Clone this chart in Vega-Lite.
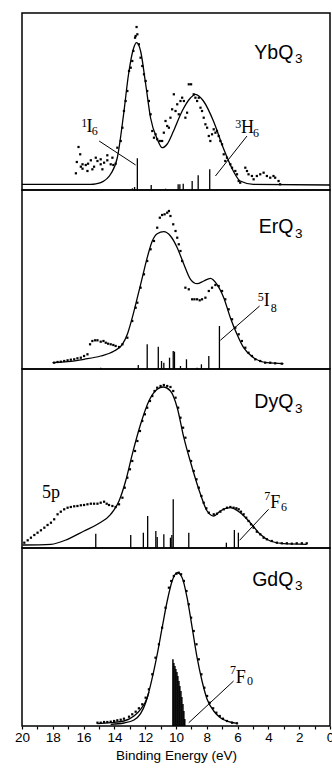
{
"$schema": "https://vega.github.io/schema/vega-lite/v6.json",
"padding": {"left": 13, "top": 12, "right": 0, "bottom": 4},
"spacing": 0,
"bounds": "flush",
"config": {"view": {"stroke": "black", "strokeWidth": 1.5}, "concat": {"spacing": 0}, "font": "Liberation Sans"},
"datasets": {
"fit": [
{"p":1,"s":"a","E":20,"I":5.7},{"p":1,"s":"a","E":15.53,"I":5.7},{"p":1,"s":"a","E":15.2,"I":6.2},{"p":1,"s":"a","E":14.89,"I":7.3},{"p":1,"s":"a","E":14.24,"I":16},{"p":1,"s":"a","E":13.81,"I":32.3},{"p":1,"s":"a","E":13.4,"I":76},{"p":1,"s":"a","E":13.08,"I":116},{"p":1,"s":"a","E":12.75,"I":142},{"p":1,"s":"a","E":12.56,"I":147.3},{"p":1,"s":"a","E":12.3,"I":139},{"p":1,"s":"a","E":11.97,"I":106},{"p":1,"s":"a","E":11.65,"I":72},{"p":1,"s":"a","E":11.22,"I":51},{"p":1,"s":"a","E":10.89,"I":42.3},{"p":1,"s":"a","E":10.57,"I":46},{"p":1,"s":"a","E":10.16,"I":59},{"p":1,"s":"a","E":9.6,"I":79},{"p":1,"s":"a","E":9.06,"I":92},{"p":1,"s":"a","E":8.74,"I":95.7},{"p":1,"s":"a","E":8.22,"I":89},{"p":1,"s":"a","E":7.57,"I":69},{"p":1,"s":"a","E":6.93,"I":42},{"p":1,"s":"a","E":6.28,"I":19},{"p":1,"s":"a","E":5.83,"I":9},{"p":1,"s":"a","E":4.98,"I":5.7},{"p":1,"s":"a","E":0,"I":5},
{"p":2,"s":"a","E":18.02,"I":6.3},{"p":2,"s":"a","E":17.04,"I":7.3},{"p":2,"s":"a","E":15.97,"I":9.7},{"p":2,"s":"a","E":14.89,"I":13},{"p":2,"s":"a","E":14.02,"I":18},{"p":2,"s":"a","E":13.48,"I":24.7},{"p":2,"s":"a","E":13.16,"I":34.7},{"p":2,"s":"a","E":12.84,"I":51.3},{"p":2,"s":"a","E":12.51,"I":71.3},{"p":2,"s":"a","E":12.19,"I":91.3},{"p":2,"s":"a","E":11.87,"I":111.3},{"p":2,"s":"a","E":11.54,"I":128},{"p":2,"s":"a","E":11.22,"I":135.3},{"p":2,"s":"a","E":10.79,"I":137.3},{"p":2,"s":"a","E":10.36,"I":133},{"p":2,"s":"a","E":9.92,"I":121.3},{"p":2,"s":"a","E":9.49,"I":104.7},{"p":2,"s":"a","E":9.06,"I":89.7},{"p":2,"s":"a","E":8.63,"I":85.3},{"p":2,"s":"a","E":8.2,"I":88},{"p":2,"s":"a","E":7.77,"I":90.7},{"p":2,"s":"a","E":7.34,"I":84.7},{"p":2,"s":"a","E":6.9,"I":71.3},{"p":2,"s":"a","E":6.47,"I":51.3},{"p":2,"s":"a","E":6.04,"I":34.7},{"p":2,"s":"a","E":5.61,"I":21.3},{"p":2,"s":"a","E":4.96,"I":11.3},{"p":2,"s":"a","E":4.1,"I":6.3},{"p":2,"s":"a","E":3.02,"I":5.3},
{"p":3,"s":"a","E":19.96,"I":3},{"p":3,"s":"a","E":18.12,"I":3.7},{"p":3,"s":"a","E":17.04,"I":8.7},{"p":3,"s":"a","E":15.97,"I":17},{"p":3,"s":"a","E":15.1,"I":23.7},{"p":3,"s":"a","E":14.24,"I":33.7},{"p":3,"s":"a","E":13.7,"I":47},{"p":3,"s":"a","E":13.27,"I":67},{"p":3,"s":"a","E":12.84,"I":93.7},{"p":3,"s":"a","E":12.3,"I":123.7},{"p":3,"s":"a","E":11.76,"I":147},{"p":3,"s":"a","E":11.22,"I":158.7},{"p":3,"s":"a","E":10.83,"I":161},{"p":3,"s":"a","E":10.36,"I":157},{"p":3,"s":"a","E":9.92,"I":140.3},{"p":3,"s":"a","E":9.49,"I":110.3},{"p":3,"s":"a","E":8.95,"I":80.3},{"p":3,"s":"a","E":8.41,"I":53.7},{"p":3,"s":"a","E":7.98,"I":37},{"p":3,"s":"a","E":7.55,"I":32},{"p":3,"s":"a","E":7.12,"I":37},{"p":3,"s":"a","E":6.47,"I":40.3},{"p":3,"s":"a","E":5.83,"I":35.3},{"p":3,"s":"a","E":5.18,"I":25.3},{"p":3,"s":"a","E":4.53,"I":13.7},{"p":3,"s":"a","E":3.88,"I":7},{"p":3,"s":"a","E":3.02,"I":4.3},{"p":3,"s":"a","E":1.51,"I":3.7},
{"p":4,"s":"a","E":15.1,"I":2.3},{"p":4,"s":"a","E":14.24,"I":3.3},{"p":4,"s":"a","E":13.38,"I":5},{"p":4,"s":"a","E":12.73,"I":10},{"p":4,"s":"a","E":12.3,"I":16.7},{"p":4,"s":"a","E":11.87,"I":28.3},{"p":4,"s":"a","E":11.54,"I":48.3},{"p":4,"s":"a","E":11.22,"I":71.7},{"p":4,"s":"a","E":10.9,"I":98.3},{"p":4,"s":"a","E":10.57,"I":125},{"p":4,"s":"a","E":10.25,"I":145},{"p":4,"s":"a","E":9.92,"I":153.3},{"p":4,"s":"a","E":9.6,"I":148.3},{"p":4,"s":"a","E":9.28,"I":128.3},{"p":4,"s":"a","E":8.95,"I":98.3},{"p":4,"s":"a","E":8.63,"I":68.3},{"p":4,"s":"a","E":8.31,"I":45},{"p":4,"s":"a","E":7.98,"I":26.7},{"p":4,"s":"a","E":7.55,"I":15},{"p":4,"s":"a","E":7.12,"I":8.3},{"p":4,"s":"a","E":6.58,"I":4.3},{"p":4,"s":"a","E":6.04,"I":2.7},
{"p":4,"s":"b","E":14.24,"I":1.7},{"p":4,"s":"b","E":13.38,"I":3},{"p":4,"s":"b","E":12.73,"I":6},{"p":4,"s":"b","E":12.3,"I":12.3},{"p":4,"s":"b","E":11.97,"I":23.3},{"p":4,"s":"b","E":11.76,"I":34}
],
"dots": [
{"p":1,"E":16.5,"I":16.7},{"p":1,"E":16.44,"I":28},{"p":1,"E":16.33,"I":43},{"p":1,"E":16.22,"I":35.7},{"p":1,"E":16.18,"I":23.3},{"p":1,"E":16.07,"I":25.7},{"p":1,"E":16.07,"I":21.3},{"p":1,"E":15.86,"I":25},{"p":1,"E":15.75,"I":19},{"p":1,"E":15.71,"I":26.3},{"p":1,"E":15.53,"I":29.7},{"p":1,"E":15.43,"I":20.7},{"p":1,"E":15.32,"I":23.3},{"p":1,"E":15.21,"I":32.3},{"p":1,"E":15.1,"I":29},{"p":1,"E":14.89,"I":30.7},{"p":1,"E":14.89,"I":25.7},{"p":1,"E":14.78,"I":20.7},{"p":1,"E":14.67,"I":27.3},{"p":1,"E":14.46,"I":34.7},{"p":1,"E":14.46,"I":29.7},{"p":1,"E":14.24,"I":25.7},{"p":1,"E":14.13,"I":32.3},{"p":1,"E":14.07,"I":25},{"p":1,"E":13.92,"I":26.3},{"p":1,"E":13.81,"I":42.3},{"p":1,"E":13.59,"I":49},{"p":1,"E":13.48,"I":62.3},{"p":1,"E":13.38,"I":79},{"p":1,"E":13.27,"I":89},{"p":1,"E":13.16,"I":99},{"p":1,"E":13.05,"I":119},{"p":1,"E":12.94,"I":122.3},{"p":1,"E":12.84,"I":129},{"p":1,"E":12.77,"I":139},{"p":1,"E":12.66,"I":152.3},{"p":1,"E":12.62,"I":154},{"p":1,"E":12.56,"I":163},{"p":1,"E":12.51,"I":155.7},{"p":1,"E":12.41,"I":145.7},{"p":1,"E":12.3,"I":132.3},{"p":1,"E":12.19,"I":124},{"p":1,"E":12.08,"I":115.7},{"p":1,"E":11.97,"I":109},{"p":1,"E":11.87,"I":99},{"p":1,"E":11.76,"I":89},{"p":1,"E":11.65,"I":75.7},{"p":1,"E":11.54,"I":59},{"p":1,"E":11.43,"I":52.3},{"p":1,"E":11.33,"I":55.7},{"p":1,"E":11.22,"I":50.7},{"p":1,"E":11.05,"I":49},{"p":1,"E":10.9,"I":49},{"p":1,"E":10.79,"I":57.3},{"p":1,"E":10.68,"I":69},{"p":1,"E":10.57,"I":64},{"p":1,"E":10.46,"I":62.3},{"p":1,"E":10.36,"I":72.3},{"p":1,"E":10.25,"I":80.7},{"p":1,"E":10.14,"I":95.7},{"p":1,"E":10.03,"I":79},{"p":1,"E":9.92,"I":85.7},{"p":1,"E":9.82,"I":75.7},{"p":1,"E":9.71,"I":89},{"p":1,"E":9.6,"I":92.3},{"p":1,"E":9.49,"I":89},{"p":1,"E":9.39,"I":72.3},{"p":1,"E":9.28,"I":77.3},{"p":1,"E":9.17,"I":105.7},{"p":1,"E":9.02,"I":105.7},{"p":1,"E":8.85,"I":95.7},{"p":1,"E":8.74,"I":92.3},{"p":1,"E":8.63,"I":89},{"p":1,"E":8.52,"I":92.3},{"p":1,"E":8.41,"I":82.3},{"p":1,"E":8.31,"I":79},{"p":1,"E":8.2,"I":72.3},{"p":1,"E":8.09,"I":65.7},{"p":1,"E":7.98,"I":62.3},{"p":1,"E":7.87,"I":54},{"p":1,"E":7.77,"I":49},{"p":1,"E":7.66,"I":55.7},{"p":1,"E":7.55,"I":60.7},{"p":1,"E":7.44,"I":57.3},{"p":1,"E":7.34,"I":59},{"p":1,"E":7.23,"I":54},{"p":1,"E":7.12,"I":49},{"p":1,"E":7.01,"I":45.7},{"p":1,"E":6.9,"I":35.7},{"p":1,"E":6.8,"I":29},{"p":1,"E":6.69,"I":32.3},{"p":1,"E":6.47,"I":25.7},{"p":1,"E":6.36,"I":22.3},{"p":1,"E":6.15,"I":19},{"p":1,"E":6.04,"I":15.7},{"p":1,"E":5.93,"I":9},{"p":1,"E":5.83,"I":7.3},{"p":1,"E":5.5,"I":22.3},{"p":1,"E":5.39,"I":19},{"p":1,"E":5.29,"I":15.7},{"p":1,"E":5.07,"I":14},{"p":1,"E":4.96,"I":10.7},{"p":1,"E":4.75,"I":14},{"p":1,"E":4.53,"I":15.7},{"p":1,"E":4.31,"I":17.3},{"p":1,"E":4.1,"I":14},{"p":1,"E":3.88,"I":12.3},{"p":1,"E":3.67,"I":14},{"p":1,"E":3.56,"I":12.3},{"p":1,"E":3.34,"I":9},{"p":1,"E":3.24,"I":5.7},
{"p":2,"E":17.91,"I":6.3},{"p":2,"E":17.69,"I":7},{"p":2,"E":17.48,"I":7.3},{"p":2,"E":17.26,"I":8},{"p":2,"E":17.04,"I":8.7},{"p":2,"E":16.83,"I":9.3},{"p":2,"E":16.61,"I":9.7},{"p":2,"E":16.4,"I":10.7},{"p":2,"E":16.18,"I":11.3},{"p":2,"E":15.97,"I":13},{"p":2,"E":15.75,"I":14.7},{"p":2,"E":15.58,"I":24.7},{"p":2,"E":15.43,"I":28},{"p":2,"E":15.25,"I":28.7},{"p":2,"E":15.1,"I":28.7},{"p":2,"E":14.89,"I":27.3},{"p":2,"E":14.71,"I":28},{"p":2,"E":14.56,"I":26.3},{"p":2,"E":14.41,"I":25.3},{"p":2,"E":14.24,"I":24.7},{"p":2,"E":14.07,"I":24},{"p":2,"E":13.92,"I":23},{"p":2,"E":13.7,"I":22},{"p":2,"E":13.48,"I":24.7},{"p":2,"E":13.16,"I":31.3},{"p":2,"E":12.84,"I":48},{"p":2,"E":12.62,"I":61.3},{"p":2,"E":12.51,"I":66.3},{"p":2,"E":12.3,"I":81.3},{"p":2,"E":12.08,"I":94.7},{"p":2,"E":11.87,"I":108},{"p":2,"E":11.65,"I":119.7},{"p":2,"E":11.43,"I":128},{"p":2,"E":11.22,"I":141.3},{"p":2,"E":11.05,"I":151.3},{"p":2,"E":10.9,"I":154},{"p":2,"E":10.74,"I":154.7},{"p":2,"E":10.57,"I":156.3},{"p":2,"E":10.46,"I":158},{"p":2,"E":10.36,"I":153},{"p":2,"E":10.18,"I":144.7},{"p":2,"E":10.03,"I":138},{"p":2,"E":9.92,"I":131.3},{"p":2,"E":9.82,"I":124.7},{"p":2,"E":9.71,"I":118},{"p":2,"E":9.6,"I":108},{"p":2,"E":9.39,"I":81.3},{"p":2,"E":9.17,"I":79.7},{"p":2,"E":8.95,"I":69.7},{"p":2,"E":8.8,"I":69.7},{"p":2,"E":8.63,"I":69.7},{"p":2,"E":8.46,"I":68.7},{"p":2,"E":8.31,"I":69.7},{"p":2,"E":8.09,"I":71.3},{"p":2,"E":7.87,"I":78},{"p":2,"E":7.66,"I":81.3},{"p":2,"E":7.44,"I":84},{"p":2,"E":7.23,"I":83},{"p":2,"E":7.01,"I":78},{"p":2,"E":6.8,"I":69.7},{"p":2,"E":6.58,"I":59.7},{"p":2,"E":6.36,"I":49.7},{"p":2,"E":6.15,"I":41.3},{"p":2,"E":5.93,"I":34.7},{"p":2,"E":5.72,"I":28},{"p":2,"E":5.5,"I":21.3},{"p":2,"E":5.29,"I":16.3},{"p":2,"E":5.07,"I":13},{"p":2,"E":4.85,"I":9.7},{"p":2,"E":4.53,"I":8},{"p":2,"E":4.21,"I":6.3},{"p":2,"E":3.88,"I":6.3},{"p":2,"E":3.56,"I":5.7},{"p":2,"E":3.13,"I":5.3},
{"p":3,"E":19.85,"I":5.3},{"p":3,"E":19.63,"I":7.7},{"p":3,"E":19.42,"I":10.3},{"p":3,"E":19.2,"I":13},{"p":3,"E":18.99,"I":15.3},{"p":3,"E":18.77,"I":17.7},{"p":3,"E":18.55,"I":20.3},{"p":3,"E":18.34,"I":23},{"p":3,"E":18.12,"I":25.3},{"p":3,"E":17.91,"I":28.7},{"p":3,"E":17.69,"I":33.7},{"p":3,"E":17.48,"I":36.3},{"p":3,"E":17.26,"I":38.7},{"p":3,"E":17.04,"I":40.3},{"p":3,"E":16.83,"I":41},{"p":3,"E":16.61,"I":41.7},{"p":3,"E":16.4,"I":42},{"p":3,"E":16.18,"I":42.7},{"p":3,"E":15.97,"I":43},{"p":3,"E":15.75,"I":43.7},{"p":3,"E":15.53,"I":44.3},{"p":3,"E":15.32,"I":44.3},{"p":3,"E":15.1,"I":44.3},{"p":3,"E":14.89,"I":45.3},{"p":3,"E":14.67,"I":46.3},{"p":3,"E":14.5,"I":44.3},{"p":3,"E":14.35,"I":43},{"p":3,"E":14.13,"I":42},{"p":3,"E":13.92,"I":41},{"p":3,"E":13.7,"I":43.7},{"p":3,"E":13.48,"I":50.3},{"p":3,"E":13.33,"I":60.3},{"p":3,"E":13.16,"I":70.3},{"p":3,"E":12.99,"I":78.7},{"p":3,"E":12.84,"I":87},{"p":3,"E":12.66,"I":97},{"p":3,"E":12.51,"I":107},{"p":3,"E":12.34,"I":117},{"p":3,"E":12.19,"I":127},{"p":3,"E":12.02,"I":133.7},{"p":3,"E":11.87,"I":140.3},{"p":3,"E":11.69,"I":147},{"p":3,"E":11.54,"I":152},{"p":3,"E":11.39,"I":157},{"p":3,"E":11.22,"I":160.3},{"p":3,"E":11,"I":162},{"p":3,"E":10.79,"I":163},{"p":3,"E":10.57,"I":162},{"p":3,"E":10.36,"I":161},{"p":3,"E":10.18,"I":157},{"p":3,"E":10.03,"I":150.3},{"p":3,"E":9.86,"I":140.3},{"p":3,"E":9.71,"I":130.3},{"p":3,"E":9.54,"I":120.3},{"p":3,"E":9.39,"I":110.3},{"p":3,"E":9.17,"I":97},{"p":3,"E":9.02,"I":87},{"p":3,"E":8.85,"I":77},{"p":3,"E":8.67,"I":68.7},{"p":3,"E":8.52,"I":60.3},{"p":3,"E":8.35,"I":52},{"p":3,"E":8.2,"I":45.3},{"p":3,"E":8.03,"I":39.7},{"p":3,"E":7.87,"I":35.3},{"p":3,"E":7.55,"I":33.7},{"p":3,"E":7.34,"I":34.3},{"p":3,"E":7.12,"I":36.3},{"p":3,"E":6.9,"I":38.7},{"p":3,"E":6.69,"I":40.3},{"p":3,"E":6.47,"I":41},{"p":3,"E":6.26,"I":40.3},{"p":3,"E":6.08,"I":39.7},{"p":3,"E":5.93,"I":38.7},{"p":3,"E":5.78,"I":36.3},{"p":3,"E":5.61,"I":33.7},{"p":3,"E":5.44,"I":30.3},{"p":3,"E":5.29,"I":27},{"p":3,"E":5.13,"I":23.7},{"p":3,"E":4.96,"I":20.3},{"p":3,"E":4.75,"I":16.3},{"p":3,"E":4.53,"I":13.7},{"p":3,"E":4.31,"I":10.3},{"p":3,"E":4.1,"I":8.7},{"p":3,"E":3.78,"I":7},{"p":3,"E":3.45,"I":5.3},{"p":3,"E":3.13,"I":4.7},{"p":3,"E":2.8,"I":4.7},{"p":3,"E":2.48,"I":4.3},{"p":3,"E":2.16,"I":4.7},{"p":3,"E":1.83,"I":4.7},{"p":3,"E":1.51,"I":4.7},
{"p":4,"E":15.1,"I":3.3},{"p":4,"E":14.89,"I":3.3},{"p":4,"E":14.67,"I":4},{"p":4,"E":14.46,"I":4},{"p":4,"E":14.24,"I":4.3},{"p":4,"E":14.02,"I":5},{"p":4,"E":13.81,"I":5.7},{"p":4,"E":13.59,"I":6.3},{"p":4,"E":13.38,"I":7.3},{"p":4,"E":13.05,"I":9.3},{"p":4,"E":12.84,"I":11.7},{"p":4,"E":12.62,"I":14.3},{"p":4,"E":12.41,"I":17.7},{"p":4,"E":12.19,"I":21.7},{"p":4,"E":11.97,"I":28.3},{"p":4,"E":11.76,"I":36.7},{"p":4,"E":11.54,"I":51.7},{"p":4,"E":11.33,"I":68.3},{"p":4,"E":11.11,"I":81.7},{"p":4,"E":10.9,"I":98.3},{"p":4,"E":10.68,"I":118.3},{"p":4,"E":10.46,"I":138.3},{"p":4,"E":10.31,"I":145},{"p":4,"E":10.14,"I":150},{"p":4,"E":9.97,"I":152.3},{"p":4,"E":9.82,"I":153.3},{"p":4,"E":9.67,"I":151.7},{"p":4,"E":9.49,"I":145},{"p":4,"E":9.32,"I":135},{"p":4,"E":9.17,"I":121.7},{"p":4,"E":9.02,"I":108.3},{"p":4,"E":8.85,"I":95},{"p":4,"E":8.67,"I":81.7},{"p":4,"E":8.52,"I":66.7},{"p":4,"E":8.35,"I":51.7},{"p":4,"E":8.16,"I":38.3},{"p":4,"E":7.98,"I":30},{"p":4,"E":7.81,"I":23.3},{"p":4,"E":7.59,"I":17.7},{"p":4,"E":7.38,"I":13.3},{"p":4,"E":7.16,"I":10},{"p":4,"E":6.95,"I":7.3},{"p":4,"E":6.69,"I":5},{"p":4,"E":6.36,"I":3.3},{"p":4,"E":6.04,"I":2.7}
],
"sticks": [
{"p":1,"E":12.83,"I":1.7},{"p":1,"E":12.69,"I":3},{"p":1,"E":12.51,"I":31.7},{"p":1,"E":11.61,"I":5},{"p":1,"E":10.68,"I":1.3},{"p":1,"E":9.86,"I":5.7},{"p":1,"E":9.75,"I":5.7},{"p":1,"E":9.53,"I":6.3},{"p":1,"E":8.95,"I":9},{"p":1,"E":8.56,"I":14.7},{"p":1,"E":7.81,"I":20.7},
{"p":2,"E":14.89,"I":1.3},{"p":2,"E":12.45,"I":4},{"p":2,"E":11.87,"I":24.7},{"p":2,"E":11.15,"I":22.3},{"p":2,"E":10.94,"I":8},{"p":2,"E":10.79,"I":6.3},{"p":2,"E":10.42,"I":11.3},{"p":2,"E":10.18,"I":18},{"p":2,"E":10.1,"I":17.3},{"p":2,"E":9.71,"I":3},{"p":2,"E":9.32,"I":9.7},{"p":2,"E":8.63,"I":1.3},{"p":2,"E":8.35,"I":4.7},{"p":2,"E":7.87,"I":13},{"p":2,"E":7.18,"I":43},
{"p":3,"E":15.21,"I":14.3},{"p":3,"E":12.94,"I":13},{"p":3,"E":12.12,"I":15.3},{"p":3,"E":11.84,"I":32},{"p":3,"E":11.31,"I":17},{"p":3,"E":11.22,"I":11},{"p":3,"E":10.79,"I":13.7},{"p":3,"E":10.36,"I":10.3},{"p":3,"E":10.27,"I":13},{"p":3,"E":10.18,"I":48.7},{"p":3,"E":9.17,"I":15.3},{"p":3,"E":6.73,"I":5.3},{"p":3,"E":6.21,"I":18},{"p":3,"E":5.95,"I":15.3},
{"p":4,"E":10.2,"I":66.7},{"p":4,"E":10.14,"I":63},{"p":4,"E":10.07,"I":60},{"p":4,"E":10.01,"I":57},{"p":4,"E":9.94,"I":54},{"p":4,"E":9.88,"I":50},{"p":4,"E":9.81,"I":45},{"p":4,"E":9.75,"I":40},{"p":4,"E":9.68,"I":35},{"p":4,"E":9.62,"I":29},{"p":4,"E":9.55,"I":22},{"p":4,"E":9.49,"I":15},{"p":4,"E":9.43,"I":7}
],
"leaders": [
{"p":1,"E":14.99,"I":49,"E2":12.62,"I2":25},{"p":1,"E":7.44,"I":14,"E2":5.39,"I2":54},
{"p":2,"E":7.12,"I":28.7,"E2":4.57,"I2":63},
{"p":3,"E":5.87,"I":7.7,"E2":3.99,"I2":38.7},
{"p":4,"E":9.17,"I":3.3,"E2":6.26,"I2":45}
],
"names": [
{"p":1,"E":2.38,"I":130.7,"t":"YbQ"},{"p":2,"E":2.38,"I":136.3,"t":"ErQ"},{"p":3,"E":2.38,"I":140.3,"t":"DyQ"},{"p":4,"E":2.38,"I":140,"t":"GdQ"}
],
"namesubs": [
{"p":1,"E":2.27,"I":127,"t":"3"},{"p":2,"E":2.27,"I":131.3,"t":"3"},{"p":3,"E":2.27,"I":135.3,"t":"3"},{"p":4,"E":2.27,"I":135.7,"t":"3"}
],
"terms": [
{"p":1,"E":15.62,"I":58.3,"t":"I"},{"p":1,"E":5.36,"I":57.3,"t":"H"},{"p":2,"E":4.1,"I":63,"t":"I"},{"p":3,"E":3.56,"I":40.3,"t":"F"},{"p":3,"E":18.12,"I":50.3,"t":"5p"},{"p":4,"E":5.8,"I":43.3,"t":"F"}
],
"termsmall": [
{"p":1,"E":15.95,"I":63,"t":"1"},{"p":1,"E":15.27,"I":55.2,"t":"6"},{"p":1,"E":5.95,"I":61.7,"t":"3"},{"p":1,"E":4.8,"I":53.5,"t":"6"},
{"p":2,"E":4.5,"I":68,"t":"5"},{"p":2,"E":3.65,"I":57.5,"t":"8"},
{"p":3,"E":4.08,"I":47.7,"t":"7"},{"p":3,"E":2.99,"I":37.2,"t":"6"},
{"p":4,"E":6.3,"I":51.7,"t":"7"},{"p":4,"E":5.19,"I":41.2,"t":"0"}
]
},
"vconcat": [
{"width": 308, "height": 177,
 "encoding": {"x": {"field":"E","type":"quantitative","scale":{"domain":[20,0],"nice":false},"axis":null},
              "y": {"field":"I","type":"quantitative","scale":{"domain":[0,177],"nice":false},"axis":null}},
 "layer": [
  {"data":{"name":"fit"},"transform":[{"filter":"datum.p == 1"}],"mark":{"type":"line","color":"black","strokeWidth":1.3,"interpolate":"monotone"},"encoding":{"detail":{"field":"s"}}},
  {"data":{"name":"dots"},"transform":[{"filter":"datum.p == 1"}],"mark":{"type":"point","shape":"square","filled":true,"size":5,"color":"black","opacity":1}},
  {"data":{"name":"sticks"},"transform":[{"filter":"datum.p == 1"}],"mark":{"type":"rule","color":"black","strokeWidth":1.3},"encoding":{"y2":{"datum":0}}},
  {"data":{"name":"leaders"},"transform":[{"filter":"datum.p == 1"}],"mark":{"type":"rule","color":"black","strokeWidth":1},"encoding":{"x2":{"field":"E2"},"y2":{"field":"I2"}}},
  {"data":{"name":"names"},"transform":[{"filter":"datum.p == 1"}],"mark":{"type":"text","font":"Liberation Sans","fontSize":19.5,"align":"right","baseline":"alphabetic","color":"black"},"encoding":{"text":{"field":"t"}}},
  {"data":{"name":"namesubs"},"transform":[{"filter":"datum.p == 1"}],"mark":{"type":"text","font":"Liberation Sans","fontSize":13.5,"align":"left","baseline":"alphabetic","color":"black"},"encoding":{"text":{"field":"t"}}},
  {"data":{"name":"terms"},"transform":[{"filter":"datum.p == 1"}],"mark":{"type":"text","font":"Liberation Serif","fontSize":18,"align":"center","baseline":"alphabetic","color":"black"},"encoding":{"text":{"field":"t"}}},
  {"data":{"name":"termsmall"},"transform":[{"filter":"datum.p == 1"}],"mark":{"type":"text","font":"Liberation Serif","fontSize":12,"align":"center","baseline":"alphabetic","color":"black"},"encoding":{"text":{"field":"t"}}}
 ]},
{"width": 308, "height": 179,
 "encoding": {"x": {"field":"E","type":"quantitative","scale":{"domain":[20,0],"nice":false},"axis":null},
              "y": {"field":"I","type":"quantitative","scale":{"domain":[0,179],"nice":false},"axis":null}},
 "layer": [
  {"data":{"name":"fit"},"transform":[{"filter":"datum.p == 2"}],"mark":{"type":"line","color":"black","strokeWidth":1.3,"interpolate":"monotone"},"encoding":{"detail":{"field":"s"}}},
  {"data":{"name":"dots"},"transform":[{"filter":"datum.p == 2"}],"mark":{"type":"point","shape":"square","filled":true,"size":5,"color":"black","opacity":1}},
  {"data":{"name":"sticks"},"transform":[{"filter":"datum.p == 2"}],"mark":{"type":"rule","color":"black","strokeWidth":1.3},"encoding":{"y2":{"datum":0}}},
  {"data":{"name":"leaders"},"transform":[{"filter":"datum.p == 2"}],"mark":{"type":"rule","color":"black","strokeWidth":1},"encoding":{"x2":{"field":"E2"},"y2":{"field":"I2"}}},
  {"data":{"name":"names"},"transform":[{"filter":"datum.p == 2"}],"mark":{"type":"text","font":"Liberation Sans","fontSize":19.5,"align":"right","baseline":"alphabetic","color":"black"},"encoding":{"text":{"field":"t"}}},
  {"data":{"name":"namesubs"},"transform":[{"filter":"datum.p == 2"}],"mark":{"type":"text","font":"Liberation Sans","fontSize":13.5,"align":"left","baseline":"alphabetic","color":"black"},"encoding":{"text":{"field":"t"}}},
  {"data":{"name":"terms"},"transform":[{"filter":"datum.p == 2"}],"mark":{"type":"text","font":"Liberation Serif","fontSize":18,"align":"center","baseline":"alphabetic","color":"black"},"encoding":{"text":{"field":"t"}}},
  {"data":{"name":"termsmall"},"transform":[{"filter":"datum.p == 2"}],"mark":{"type":"text","font":"Liberation Serif","fontSize":12,"align":"center","baseline":"alphabetic","color":"black"},"encoding":{"text":{"field":"t"}}}
 ]},
{"width": 308, "height": 179,
 "encoding": {"x": {"field":"E","type":"quantitative","scale":{"domain":[20,0],"nice":false},"axis":null},
              "y": {"field":"I","type":"quantitative","scale":{"domain":[0,179],"nice":false},"axis":null}},
 "layer": [
  {"data":{"name":"fit"},"transform":[{"filter":"datum.p == 3"}],"mark":{"type":"line","color":"black","strokeWidth":1.3,"interpolate":"monotone"},"encoding":{"detail":{"field":"s"}}},
  {"data":{"name":"dots"},"transform":[{"filter":"datum.p == 3"}],"mark":{"type":"point","shape":"square","filled":true,"size":5,"color":"black","opacity":1}},
  {"data":{"name":"sticks"},"transform":[{"filter":"datum.p == 3"}],"mark":{"type":"rule","color":"black","strokeWidth":1.3},"encoding":{"y2":{"datum":0}}},
  {"data":{"name":"leaders"},"transform":[{"filter":"datum.p == 3"}],"mark":{"type":"rule","color":"black","strokeWidth":1},"encoding":{"x2":{"field":"E2"},"y2":{"field":"I2"}}},
  {"data":{"name":"names"},"transform":[{"filter":"datum.p == 3"}],"mark":{"type":"text","font":"Liberation Sans","fontSize":19.5,"align":"right","baseline":"alphabetic","color":"black"},"encoding":{"text":{"field":"t"}}},
  {"data":{"name":"namesubs"},"transform":[{"filter":"datum.p == 3"}],"mark":{"type":"text","font":"Liberation Sans","fontSize":13.5,"align":"left","baseline":"alphabetic","color":"black"},"encoding":{"text":{"field":"t"}}},
  {"data":{"name":"terms"},"transform":[{"filter":"datum.p == 3"}],"mark":{"type":"text","font":"Liberation Serif","fontSize":18,"align":"center","baseline":"alphabetic","color":"black"},"encoding":{"text":{"field":"t"}}},
  {"data":{"name":"termsmall"},"transform":[{"filter":"datum.p == 3"}],"mark":{"type":"text","font":"Liberation Serif","fontSize":12,"align":"center","baseline":"alphabetic","color":"black"},"encoding":{"text":{"field":"t"}}}
 ]},
{"width": 308, "height": 178,
 "encoding": {"x": {"field":"E","type":"quantitative","scale":{"domain":[20,0],"nice":false},
                    "axis":{"values":[0,1,2,3,4,5,6,7,8,9,10,11,12,13,14,15,16,17,18,19,20],"labelExpr":"datum.value % 2 == 0 ? datum.label : ''","labelOverlap":false,"labelFlush":false,"grid":false,"domain":false,"tickSize":3,"tickColor":"black","tickWidth":1.2,"labelFont":"Liberation Sans","labelFontSize":13.5,"labelColor":"black","labelPadding":1,"title":"Binding Energy (eV)","titleFont":"Liberation Sans","titleFontSize":13.5,"titleFontWeight":"normal","titleColor":"black","titlePadding":5}},
              "y": {"field":"I","type":"quantitative","scale":{"domain":[0,178],"nice":false},"axis":null}},
 "layer": [
  {"data":{"name":"fit"},"transform":[{"filter":"datum.p == 4"}],"mark":{"type":"line","color":"black","strokeWidth":1.3,"interpolate":"monotone"},"encoding":{"detail":{"field":"s"}}},
  {"data":{"name":"dots"},"transform":[{"filter":"datum.p == 4"}],"mark":{"type":"point","shape":"square","filled":true,"size":5,"color":"black","opacity":1}},
  {"data":{"name":"sticks"},"transform":[{"filter":"datum.p == 4"}],"mark":{"type":"rule","color":"black","strokeWidth":1.5},"encoding":{"y2":{"datum":0}}},
  {"data":{"name":"leaders"},"transform":[{"filter":"datum.p == 4"}],"mark":{"type":"rule","color":"black","strokeWidth":1},"encoding":{"x2":{"field":"E2"},"y2":{"field":"I2"}}},
  {"data":{"name":"names"},"transform":[{"filter":"datum.p == 4"}],"mark":{"type":"text","font":"Liberation Sans","fontSize":19.5,"align":"right","baseline":"alphabetic","color":"black"},"encoding":{"text":{"field":"t"}}},
  {"data":{"name":"namesubs"},"transform":[{"filter":"datum.p == 4"}],"mark":{"type":"text","font":"Liberation Sans","fontSize":13.5,"align":"left","baseline":"alphabetic","color":"black"},"encoding":{"text":{"field":"t"}}},
  {"data":{"name":"terms"},"transform":[{"filter":"datum.p == 4"}],"mark":{"type":"text","font":"Liberation Serif","fontSize":18,"align":"center","baseline":"alphabetic","color":"black"},"encoding":{"text":{"field":"t"}}},
  {"data":{"name":"termsmall"},"transform":[{"filter":"datum.p == 4"}],"mark":{"type":"text","font":"Liberation Serif","fontSize":12,"align":"center","baseline":"alphabetic","color":"black"},"encoding":{"text":{"field":"t"}}}
 ]}
]
}
